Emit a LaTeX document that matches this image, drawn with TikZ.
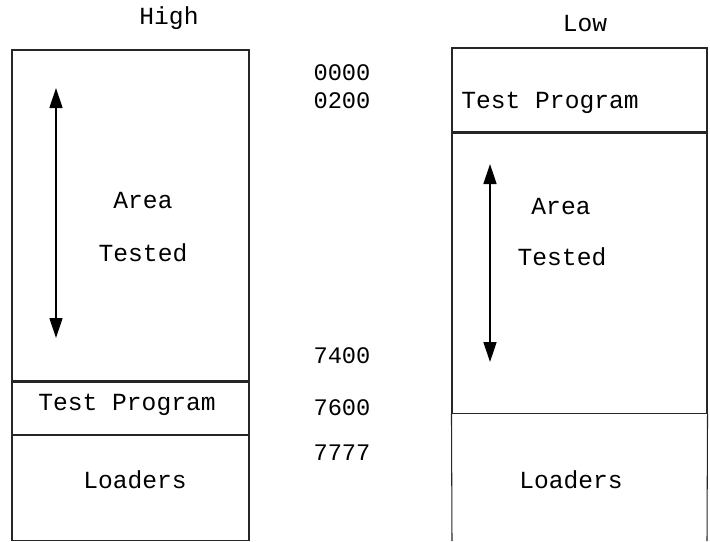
\documentclass[tikz,border=0pt]{standalone}
\usepackage{fontspec}
\setmonofont{Liberation Mono}
\usetikzlibrary{arrows.meta,positioning}

\begin{document}
\begin{tikzpicture}

\tikzset{region/.style={
  rectangle,
  inner sep=0pt,
  draw=black!85,
  line width=0.6pt,
  minimum width=47.4mm
  },
  word/.style={font=\ttfamily\fontsize{14}{16}\selectfont, inner sep=0pt},
  addr/.style={font=\ttfamily\fontsize{13.5}{16}\selectfont, inner sep=0pt},
  span/.style={draw, line width=0.8pt, {Triangle[length=4mm,width=2.6mm]}-{Triangle[length=4mm,width=2.6mm]}}
  }

\useasboundingbox (0,0) rectangle (14.2,-10.82);

% high memory layout
\node[region, minimum height=66.2mm] (areaH) at (2.61,-4.31) {};
\node[region, minimum height=10.4mm, below=0pt of areaH] (progH) {};
\node[region, minimum height=21mm, below=0pt of progH] (loadH) {};

% low memory layout
\node[region, minimum width=51mm, minimum height=16.8mm] (progL) at (11.59,-1.80) {};
\node[region, minimum width=51mm, minimum height=56mm, below=0pt of progL] (areaL) {};
\coordinate (loadLw) at (9.04,-10.82);
\coordinate (loadLe) at (14.14,-10.82);
\path[draw=black!85, line width=0.6pt] (areaL.south west) -- (loadLw);
\path[draw=black!85, line width=0.6pt] (areaL.south east) -- (loadLe);

\node[word] (high) at (3.38,-0.36) {High};
\node[word] (low) at (11.7,-0.48) {Low};

\node[word] (areaHt) at (2.86,-4.02) {Area};
\node[word] (testHt) at (2.86,-5.06) {Tested};
\node[word] (progHt) at (2.54,-8.10) {Test Program};
\node[word] (loadHt) at (2.70,-9.60) {Loaders};

\node[word] (progLt) at (11.0,-2.06) {Test Program};
\node[word] (areaLt) at (11.22,-4.14) {Area};
\node[word] (testLt) at (11.24,-5.14) {Tested};
\node[word] (loadLt) at (11.42,-9.60) {Loaders};

% addresses
\node[addr] (a0000) at (6.84,-1.46) {0000};
\node[addr] (a0200) at (6.84,-2.02) {0200};
\node[addr] (a7400) at (6.84,-7.12) {7400};
\node[addr] (a7600) at (6.84,-8.16) {7600};
\node[addr] (a7777) at (6.84,-9.06) {7777};

\coordinate (upH) at (1.12,-1.76);
\coordinate (downH) at (1.12,-6.76);
\path[span] (upH) -- (downH);
\coordinate (upL) at (9.80,-3.28);
\coordinate (downL) at (9.80,-7.24);
\path[span] (upL) -- (downL);

\end{tikzpicture}
\end{document}
